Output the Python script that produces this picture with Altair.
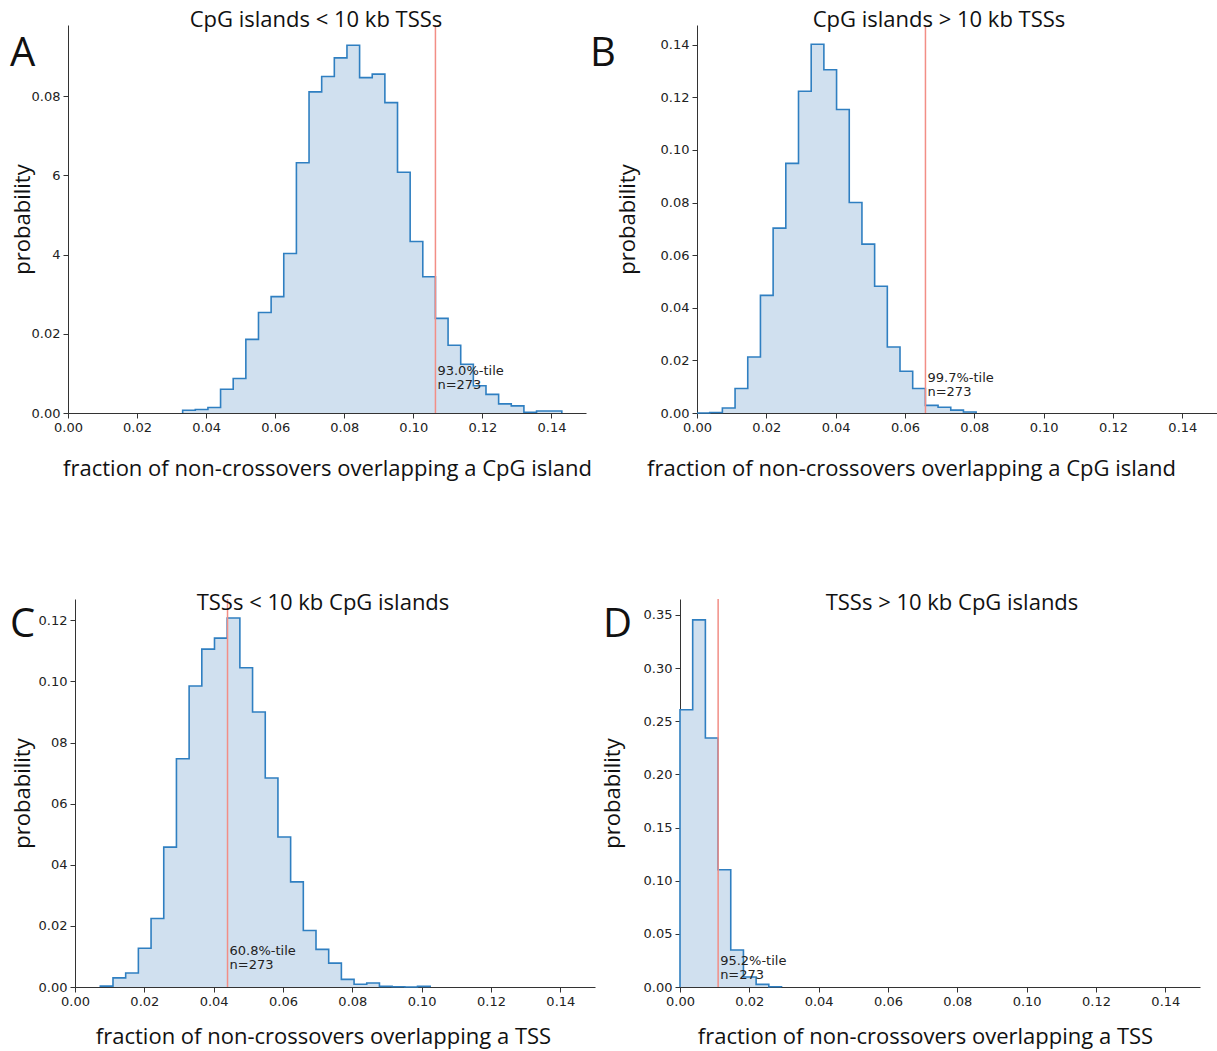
import altair as alt
import pandas as pd

bin_width = 0.00366

# Panel A: CpG islands < 10 kb TSSs
a_lo = 0.0332
a_heights = [0.0007, 0.0009, 0.0014, 0.0060, 0.0087, 0.0186, 0.0254, 0.0294, 0.0403, 0.0632,
             0.0811, 0.0850, 0.0897, 0.0929, 0.0847, 0.0856, 0.0784, 0.0608, 0.0433, 0.0344,
             0.0239, 0.0171, 0.0123, 0.0069, 0.0047, 0.0023, 0.0018, 0.0002, 0.0005, 0.0005]
a_obs = 0.1064
a_note = "93.0%-tile\nn=273"

# Panel B: CpG islands > 10 kb TSSs
b_lo = 0.0
b_heights = [0.0, 0.0002, 0.0019, 0.0093, 0.0213, 0.0447, 0.0703, 0.0949, 0.1223, 0.1402,
             0.1305, 0.1154, 0.0800, 0.0642, 0.0482, 0.0251, 0.0159, 0.0093, 0.0029, 0.0022,
             0.0011, 0.0004]
b_obs = 0.0659
b_note = "99.7%-tile\nn=273"

# Panel C: TSSs < 10 kb CpG islands
c_lo = 0.0073
c_heights = [0.0003, 0.0030, 0.0046, 0.0127, 0.0224, 0.0458, 0.0747, 0.0985, 0.1106, 0.1142,
             0.1208, 0.1045, 0.0900, 0.0684, 0.0491, 0.0344, 0.0185, 0.0123, 0.0078, 0.0025,
             0.0009, 0.0013, 0.0002, 0.0001, 0.0, 0.0002]
c_obs = 0.0440
c_note = "60.8%-tile\nn=273"

# Panel D: TSSs > 10 kb CpG islands
d_lo = 0.0
d_heights = [0.2608, 0.3454, 0.2342, 0.1103, 0.0348, 0.0094, 0.0025, 0.0003]
d_obs = 0.0110
d_note = "95.2%-tile\nn=273"

x_ticks = [0.0, 0.02, 0.04, 0.06, 0.08, 0.10, 0.12, 0.14]
note_y = 0.005

FILL = "#d0e0ef"
EDGE = "#2f7fc1"
RED = "#f28e86"
TXT = "#111111"
AX = "#333333"
SANS = "Open Sans"
TICKF = "DejaVu Sans"


def panel(heights, lo, obs, note, title, xtitle, ymax, yticks, ylabel_expr, letter, g):
    n = len(heights)
    edges = [lo + i * bin_width for i in range(n + 1)]
    xs = [edges[0]] + edges[:n] + [edges[n], edges[n]]
    ys = [0.0] + list(heights) + [heights[-1], 0.0]
    df = pd.DataFrame({"x": xs, "y": ys, "i": list(range(len(xs)))})

    xscale = alt.Scale(domain=[0, 0.15], nice=False, zero=False)
    yscale = alt.Scale(domain=[0, ymax], nice=False)
    xaxis = alt.Axis(values=x_ticks, format=".2f", title=xtitle, grid=False,
                     labelFont=TICKF, labelFontSize=13, labelColor="#222222",
                     labelFlush=False, labelOverlap=False, labelPadding=3,
                     tickSize=5, tickColor=AX, domainColor=AX, tickWidth=1, domainWidth=1,
                     titleFont=SANS, titleFontSize=22, titleFontWeight="normal", titleColor=TXT,
                     titleX=g["xtx"], titleY=g["xty"], titleAlign="center", titleBaseline="middle")
    yaxis_kw = dict(values=yticks, format=".2f", title="probability", grid=False,
                    labelFont=TICKF, labelFontSize=13, labelColor="#222222",
                    labelFlush=False, labelOverlap=False, labelPadding=3,
                    tickSize=5, tickColor=AX, domainColor=AX, tickWidth=1, domainWidth=1,
                    titleFont=SANS, titleFontSize=22, titleFontWeight="normal", titleColor=TXT,
                    titleX=g["ytx"], titleY=194, titleAlign="center", titleBaseline="middle")
    if ylabel_expr:
        yaxis_kw["labelExpr"] = ylabel_expr
    yaxis = alt.Axis(**yaxis_kw)

    base = alt.Chart(df)
    area = base.mark_area(interpolate="step-after", color=FILL, opacity=1).encode(
        x=alt.X("x:Q", scale=xscale, axis=xaxis),
        y=alt.Y("y:Q", scale=yscale, axis=yaxis),
    )
    line = base.mark_line(interpolate="step-after", color=EDGE, strokeWidth=1.6).encode(
        x="x:Q", y="y:Q", order="i:Q"
    )
    rule = alt.Chart(pd.DataFrame({"x": [obs]})).mark_rule(color=RED, strokeWidth=1.5).encode(
        x="x:Q"
    )
    txt = alt.Chart(pd.DataFrame({"x": [obs], "y": [note_y], "t": [note]})).mark_text(
        align="left", baseline="bottom", dx=2, dy=g["ndy"], font=TICKF, fontSize=13,
        lineHeight=14, lineBreak="\n", color="#222222"
    ).encode(x="x:Q", y="y:Q", text="t:N")
    let = alt.Chart(pd.DataFrame({"t": [letter]})).mark_text(
        align="left", baseline="alphabetic", font=SANS, fontSize=40, color=TXT
    ).encode(x=alt.value(g["lx"]), y=alt.value(g["ly"]), text="t:N")

    return alt.layer(area, line, rule, txt, let).properties(
        width=g["w"], height=388,
        title=alt.TitleParams(title, anchor="middle", frame="group", offset=0,
                              dx=g["tdx"], dy=g["tdy"], baseline="middle",
                              font=SANS, fontSize=22, fontWeight="normal", color=TXT),
    )


pa = panel(a_heights, a_lo, a_obs, a_note, "CpG islands < 10 kb TSSs",
           "fraction of non-crossovers overlapping a CpG island", 0.098,
           [0.0, 0.02, 0.04, 0.06, 0.08],
           "datum.label == '0.04' ? '4' : datum.label == '0.06' ? '6' : datum.label", "A",
           dict(w=518, lx=-58, ly=41, ytx=-46, xtx=259, xty=55, tdx=-11, tdy=18, ndy=-15))
pb = panel(b_heights, b_lo, b_obs, b_note, "CpG islands > 10 kb TSSs",
           "fraction of non-crossovers overlapping a CpG island", 0.1475,
           [0.0, 0.02, 0.04, 0.06, 0.08, 0.10, 0.12, 0.14], None, "B",
           dict(w=520, lx=-107, ly=41, ytx=-70, xtx=214, xty=55, tdx=-18, tdy=18, ndy=-15))
pc = panel(c_heights, c_lo, c_obs, c_note, "TSSs < 10 kb CpG islands",
           "fraction of non-crossovers overlapping a TSS", 0.127,
           [0.0, 0.02, 0.04, 0.06, 0.08, 0.10, 0.12],
           "datum.label == '0.04' ? '04' : datum.label == '0.06' ? '06' : datum.label == '0.08' ? '08' : datum.label",
           "C",
           dict(w=520, lx=-65, ly=38, ytx=-53, xtx=248, xty=49, tdx=-12, tdy=27, ndy=-14))
pd_ = panel(d_heights, d_lo, d_obs, d_note, "TSSs > 10 kb CpG islands",
            "fraction of non-crossovers overlapping a TSS", 0.365,
            [0.0, 0.05, 0.10, 0.15, 0.20, 0.25, 0.30, 0.35], None, "D",
            dict(w=520, lx=-77, ly=38, ytx=-68, xtx=245, xty=49, tdx=12, tdy=27, ndy=-14))

spacer = alt.Chart(pd.DataFrame({"v": [0]})).mark_point(opacity=0).encode(
    x=alt.value(0), y=alt.value(0)
).properties(width=1, height=1)

row1 = alt.hconcat(pa, pb, spacing=111, bounds="flush")
row2 = alt.hconcat(spacer, alt.hconcat(pc, pd_, spacing=85, bounds="flush"),
                   spacing=6, bounds="flush")

chart = alt.vconcat(row1, row2, spacing=113).properties(
    padding={"left": 10, "top": 9, "right": 0, "bottom": 6},
    autosize=alt.AutoSizeParams(type="pad"),
    background="white",
).configure_view(stroke=None)

chart.save("out.html", embed_options={"renderer": "svg", "actions": False})
